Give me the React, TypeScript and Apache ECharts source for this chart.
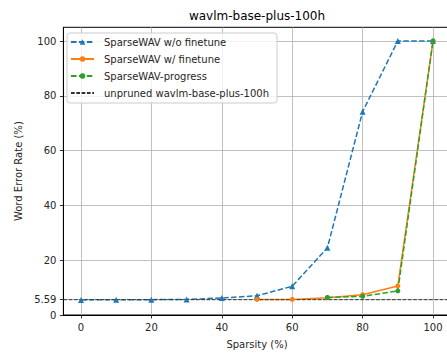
import React, { useEffect, useRef } from "react";
import * as echarts from "echarts";

const sparsity = [0, 10, 20, 30, 40, 50, 60, 70, 80, 90, 100];
const woFinetune = [5.5, 5.6, 5.6, 5.7, 6.2, 7.0, 10.5, 24.5, 74.2, 100, 100];
const finetuneX = [50, 60, 70, 80, 90, 100];
const wFinetune = [5.7, 5.7, 6.3, 7.4, 10.6, 100];
const progressX = [70, 80, 90, 100];
const progress = [6.4, 6.8, 8.8, 100];
const baseline = 5.59;
const xTicks = [0, 20, 40, 60, 80, 100];
const yTicks = [0, 5.59, 20, 40, 60, 80, 100];
const xLimits = [-5, 105];
const yLimits = [0, 105];

const FONT = "DejaVu Sans";
const TXT = "#262626";

export default function App() {
  const ref = useRef<HTMLDivElement>(null);
  useEffect(() => {
    if (!ref.current) return;
    const chart = echarts.init(ref.current, undefined, { renderer: "svg" });
    const pair = (xs: number[], ys: number[]) => xs.map((x, i) => [x, ys[i]]);
    chart.setOption({
      animation: false,
      backgroundColor: "#ffffff",
      textStyle: { fontFamily: FONT },
      graphic: [
        {
          type: "text",
          x: 257,
          y: 16,
          style: {
            text: "wavlm-base-plus-100h",
            fontFamily: FONT,
            fontSize: 12,
            fill: "#000",
            textAlign: "center",
            textVerticalAlign: "middle",
          },
        },
      ],
      grid: {
        left: 63.4,
        top: 27.3,
        width: 387.2,
        height: 290.4,
        show: true,
        borderColor: "#000",
        borderWidth: 1,
        backgroundColor: "transparent",
      },
      legend: {
        orient: "vertical",
        left: 67,
        top: 33,
        padding: [2, 8, 3, 3],
        itemGap: 3,
        itemWidth: 23,
        itemHeight: 7,
        backgroundColor: "rgba(255,255,255,0.8)",
        borderColor: "#cccccc",
        borderWidth: 1,
        borderRadius: 3,
        textStyle: {
          fontFamily: FONT,
          fontSize: 10,
          color: TXT,
          lineHeight: 14,
          padding: [0, 0, 0, 5],
        },
        data: [
          "SparseWAV w/o finetune",
          "SparseWAV w/ finetune",
          "SparseWAV-progress",
          {
            name: "unpruned wavlm-base-plus-100h",
            itemStyle: { opacity: 0 },
          },
        ],
      },
      xAxis: {
        type: "value",
        min: xLimits[0],
        max: xLimits[1],
        name: "Sparsity (%)",
        nameLocation: "middle",
        nameGap: 24,
        nameTextStyle: { fontFamily: FONT, fontSize: 10, color: TXT },
        axisLine: { show: true, onZero: false, lineStyle: { color: "#000", width: 1 } },
        axisTick: {
          show: true,
          length: 3.5,
          inside: false,
          customValues: xTicks,
          lineStyle: { color: "#000", width: 0.8 },
        },
        axisLabel: {
          customValues: xTicks,
          margin: 7,
          fontFamily: FONT,
          fontSize: 10,
          color: TXT,
        },
        splitLine: { show: true, lineStyle: { color: "#b0b0b0", width: 0.8 } },
      },
      yAxis: {
        type: "value",
        min: yLimits[0],
        max: yLimits[1],
        name: "Word Error Rate (%)",
        nameLocation: "middle",
        nameGap: 32,
        nameTextStyle: { fontFamily: FONT, fontSize: 10, color: TXT },
        axisLine: { show: true, onZero: false, lineStyle: { color: "#000", width: 1 } },
        axisTick: {
          show: true,
          length: 3.5,
          inside: false,
          customValues: yTicks,
          lineStyle: { color: "#000", width: 0.8 },
        },
        axisLabel: {
          customValues: yTicks,
          margin: 7,
          fontFamily: FONT,
          fontSize: 10,
          color: TXT,
        },
        splitLine: { show: true, lineStyle: { color: "#b0b0b0", width: 0.8 } },
      },
      series: [
        {
          name: "SparseWAV w/o finetune",
          type: "line",
          data: pair(sparsity, woFinetune),
          symbol: "triangle",
          symbolSize: 6,
          color: "#1f77b4",
          lineStyle: { width: 1.5, type: [5.5, 2.4], color: "#1f77b4" },
          itemStyle: { color: "#1f77b4" },
        },
        {
          name: "SparseWAV w/ finetune",
          type: "line",
          data: pair(finetuneX, wFinetune),
          symbol: "circle",
          symbolSize: 5,
          color: "#ff7f0e",
          lineStyle: { width: 1.5, type: "solid", color: "#ff7f0e" },
          itemStyle: { color: "#ff7f0e" },
        },
        {
          name: "SparseWAV-progress",
          type: "line",
          data: pair(progressX, progress),
          symbol: "circle",
          symbolSize: 5,
          color: "#2ca02c",
          lineStyle: { width: 1.5, type: [5.5, 2.4], color: "#2ca02c" },
          itemStyle: { color: "#2ca02c" },
        },
        {
          name: "unpruned wavlm-base-plus-100h",
          type: "line",
          data: [
            [xLimits[0], baseline],
            [xLimits[1], baseline],
          ],
          symbol: "none",
          color: "#333333",
          lineStyle: { width: 1, type: [3.7, 1.6], color: "#333333" },
          itemStyle: { color: "#333333" },
        },
      ],
    });
    return () => chart.dispose();
  }, []);
  return (
    <div
      ref={ref}
      style={{ position: "fixed", left: 0, top: 0, width: 451, height: 354 }}
    />
  );
}
